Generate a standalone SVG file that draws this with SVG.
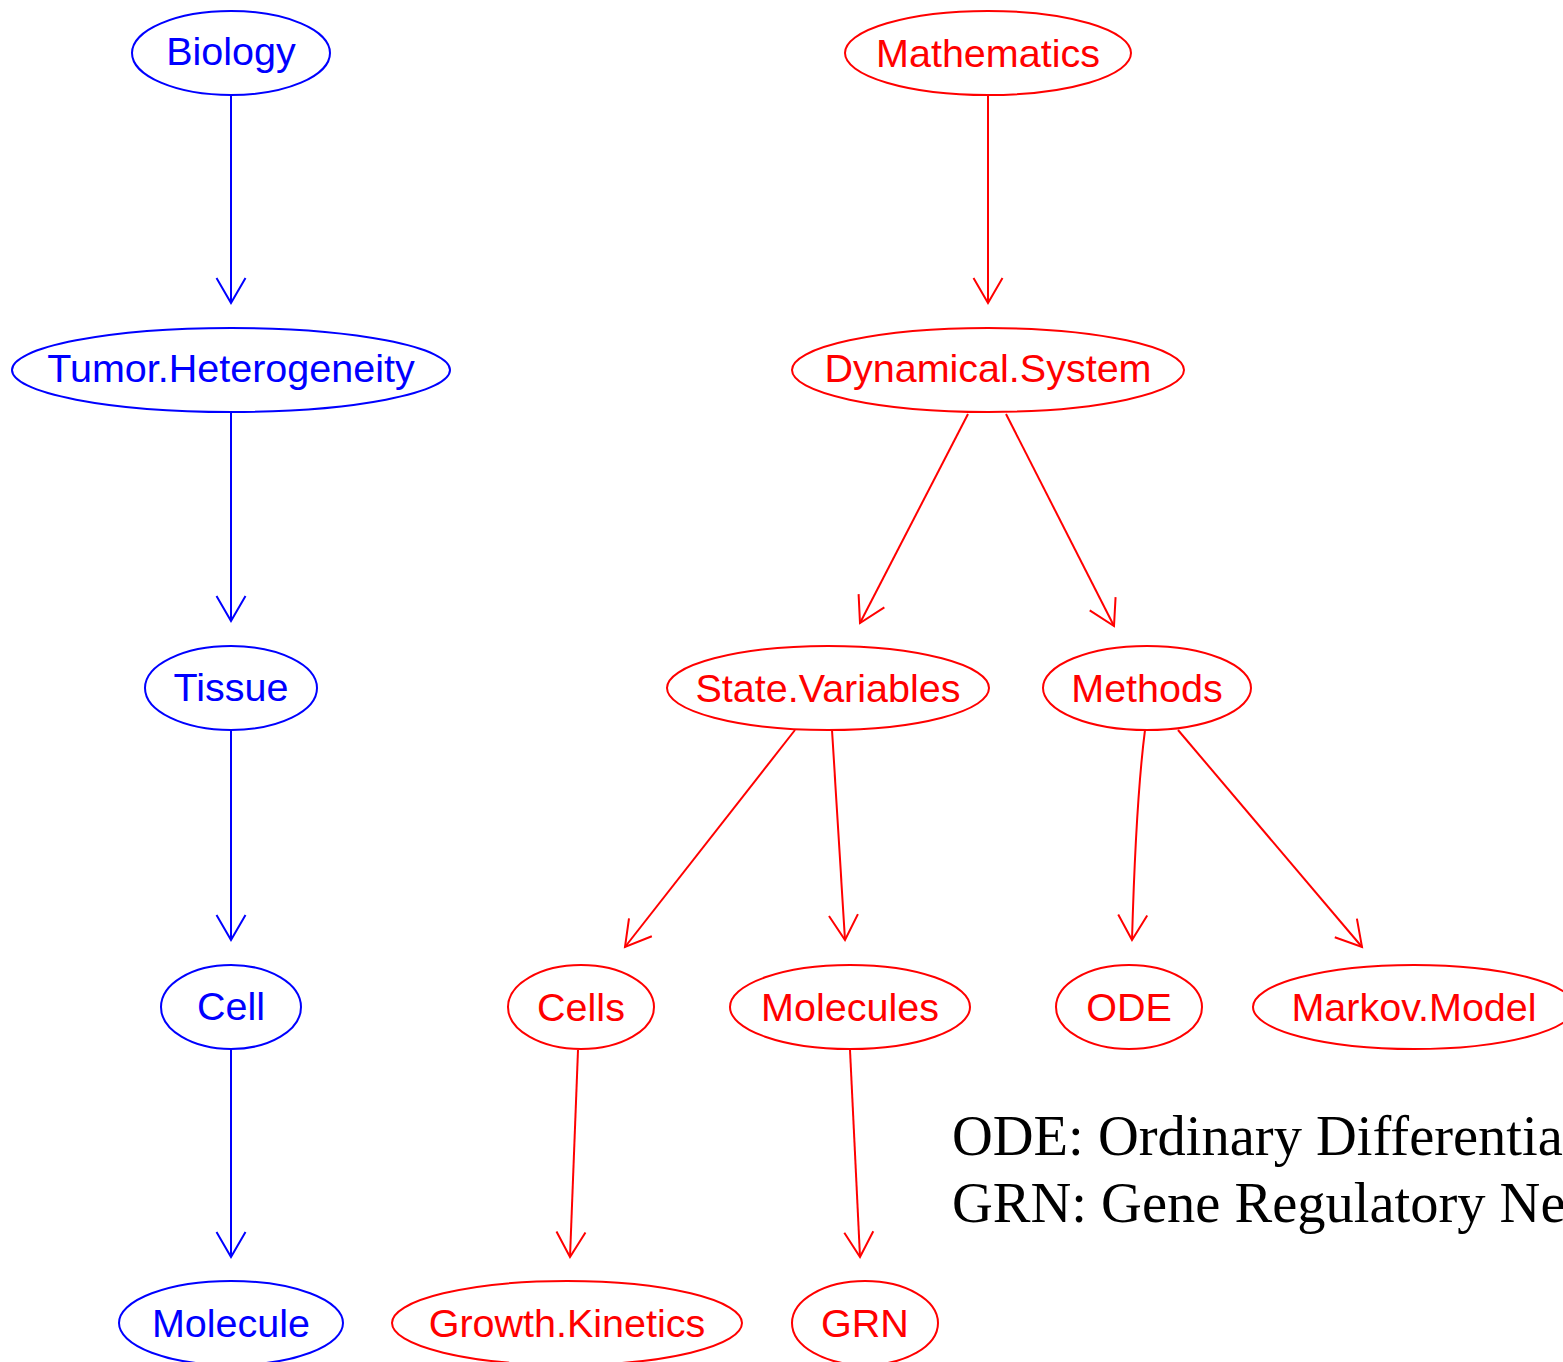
<svg xmlns="http://www.w3.org/2000/svg" width="1563" height="1362" viewBox="0 0 1563 1362">
<style>
.b ellipse{fill:none;stroke:#0000ff;stroke-width:2}
.r ellipse{fill:none;stroke:#ff0000;stroke-width:2}
.b text{fill:#0000ff}
.r text{fill:#ff0000}
.node text{font-family:"Liberation Sans",Arial,sans-serif;font-size:39.5px;text-anchor:middle}
.eb{stroke:#0000ff;stroke-width:2;fill:none;marker-end:url(#ab)}
.er{stroke:#ff0000;stroke-width:2;fill:none;marker-end:url(#ar)}
.legend{font-family:"Liberation Serif","Times New Roman",serif;font-size:56.5px;fill:#000}
</style>
<defs>
<marker id="ab" markerUnits="userSpaceOnUse" markerWidth="60" markerHeight="60" refX="0" refY="0" viewBox="-30 -30 60 60" orient="auto" overflow="visible">
<path d="M-25,-14.5 L0,0 L-25,14.5" fill="none" stroke="#0000ff" stroke-width="2"/>
</marker>
<marker id="ar" markerUnits="userSpaceOnUse" markerWidth="60" markerHeight="60" refX="0" refY="0" viewBox="-30 -30 60 60" orient="auto" overflow="visible">
<path d="M-25,-14.5 L0,0 L-25,14.5" fill="none" stroke="#ff0000" stroke-width="2"/>
</marker>
</defs>
<g id="connectors">
<line class="eb" x1="231" y1="96" x2="231" y2="303"/>
<line class="eb" x1="231" y1="413" x2="231" y2="621"/>
<line class="eb" x1="231" y1="731" x2="231" y2="940"/>
<line class="eb" x1="231" y1="1050" x2="231" y2="1257"/>
<line class="er" x1="988" y1="96" x2="988" y2="303"/>
<line class="er" x1="968" y1="414" x2="860" y2="623"/>
<line class="er" x1="1006" y1="414" x2="1114" y2="626"/>
<line class="er" x1="795" y1="730" x2="625" y2="947"/>
<line class="er" x1="832" y1="730" x2="845" y2="940"/>
<path class="er" d="M1145,730 Q1136,800 1132,940"/>
<line class="er" x1="1178" y1="730" x2="1362" y2="947"/>
<line class="er" x1="578" y1="1050" x2="570" y2="1257"/>
<line class="er" x1="850" y1="1050" x2="860" y2="1257"/>
</g>
<g id="n-biology" class="node b"><ellipse cx="231" cy="53" rx="99" ry="42"/><text x="231" y="65">Biology</text></g>
<g id="n-tumor" class="node b"><ellipse cx="231" cy="370" rx="219" ry="42"/><text x="231" y="382">Tumor.Heterogeneity</text></g>
<g id="n-tissue" class="node b"><ellipse cx="231" cy="688" rx="86" ry="42"/><text x="231" y="701">Tissue</text></g>
<g id="n-cell" class="node b"><ellipse cx="231" cy="1007" rx="70" ry="42"/><text x="231" y="1020">Cell</text></g>
<g id="n-molecule" class="node b"><ellipse cx="231" cy="1323" rx="112" ry="42"/><text x="231" y="1337">Molecule</text></g>
<g id="n-math" class="node r"><ellipse cx="988" cy="53" rx="143" ry="42"/><text x="988" y="67">Mathematics</text></g>
<g id="n-dyn" class="node r"><ellipse cx="988" cy="370" rx="196" ry="42"/><text x="988" y="382">Dynamical.System</text></g>
<g id="n-state" class="node r"><ellipse cx="828" cy="688" rx="161" ry="42"/><text x="828" y="702">State.Variables</text></g>
<g id="n-methods" class="node r"><ellipse cx="1147" cy="688" rx="104" ry="42"/><text x="1147" y="702">Methods</text></g>
<g id="n-cells" class="node r"><ellipse cx="581" cy="1007" rx="73" ry="42"/><text x="581" y="1021">Cells</text></g>
<g id="n-molecules" class="node r"><ellipse cx="850" cy="1007" rx="120" ry="42"/><text x="850" y="1021">Molecules</text></g>
<g id="n-ode" class="node r"><ellipse cx="1129" cy="1007" rx="73" ry="42"/><text x="1129" y="1021">ODE</text></g>
<g id="n-markov" class="node r"><ellipse cx="1414" cy="1007" rx="161" ry="42"/><text x="1414" y="1021">Markov.Model</text></g>
<g id="n-growth" class="node r"><ellipse cx="567" cy="1323" rx="175" ry="42"/><text x="567" y="1337">Growth.Kinetics</text></g>
<g id="n-grn" class="node r"><ellipse cx="865" cy="1323" rx="73" ry="42"/><text x="865" y="1337">GRN</text></g>
<g id="legend">
<text class="legend" x="952" y="1155">ODE: Ordinary Differentia</text>
<text class="legend" x="952" y="1222">GRN: Gene Regulatory Ne</text>
</g>
</svg>
